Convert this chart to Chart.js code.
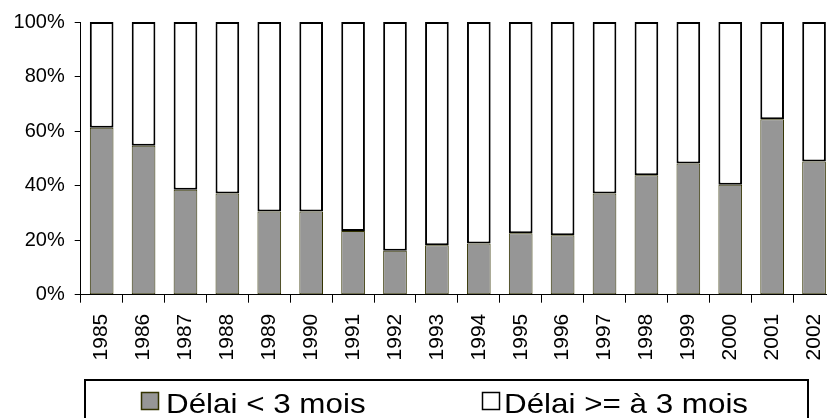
<!DOCTYPE html>
<html>
<head>
<meta charset="utf-8">
<script src="https://cdn.jsdelivr.net/npm/chart.js@4.4.0/dist/chart.umd.min.js"></script>
<style>
  html, body { margin: 0; padding: 0; background: #fff; overflow: hidden; }
  #wrap { width: 860px; height: 418px; }
</style>
</head>
<body>
<div id="wrap"><canvas id="delaiChart" width="860" height="418"></canvas></div>
<script>
const annees = ['1985', '1986', '1987', '1988', '1989', '1990', '1991', '1992', '1993',
                '1994', '1995', '1996', '1997', '1998', '1999', '2000', '2001', '2002'];
const moinsDe3Mois = [61.2, 54.6, 38.5, 37.1, 30.5, 30.5, 23.4, 16.1, 18.1,
                      18.8, 22.5, 21.8, 37.1, 43.8, 48.1, 40.3, 64.3, 48.8];
const plusDe3Mois = [38.8, 45.4, 61.5, 62.9, 69.5, 69.5, 76.6, 83.9, 81.9,
                     81.2, 77.5, 78.2, 62.9, 56.2, 51.9, 59.7, 35.7, 51.2];
const graduations = [0, 20, 40, 60, 80, 100];

const police = '"Liberation Sans", Arial, sans-serif';

// légende encadrée comme dans l'original (Excel), texte un peu étiré en largeur
const cadreLegende = {
    id: 'cadreLegende',
    afterDraw(chart) {
        const ctx = chart.ctx;
        const ds = chart.data.datasets;
        const places = [{ carre: 141, texte: 166 }, { carre: 482, texte: 504 }];
        ctx.save();
        ctx.strokeStyle = '#000';
        ctx.lineWidth = 2;
        ctx.strokeRect(85, 380, 723, 60);
        places.forEach((p, i) => {
            ctx.fillStyle = ds[i].backgroundColor;
            ctx.fillRect(p.carre, 392, 18, 18);
            ctx.strokeStyle = ds[i].borderColor;
            ctx.lineWidth = 1.5;
            ctx.strokeRect(p.carre + 0.5, 392.5, 17, 17);
            ctx.save();
            ctx.translate(p.texte, 412.5);
            ctx.scale(1.12, 1);
            ctx.font = '28px ' + police;
            ctx.textBaseline = 'alphabetic';
            ctx.fillStyle = '#000';
            ctx.fillText(ds[i].label, 0, 0);
            ctx.restore();
        });
        ctx.restore();
    }
};

const ctx = document.getElementById('delaiChart').getContext('2d');
const delaiChart = new Chart(ctx, {
    type: 'bar',
    data: {
        labels: annees,
        datasets: [{
            label: 'Délai < 3 mois',
            data: moinsDe3Mois,
            backgroundColor: '#969696',
            borderColor: '#333300',
            borderWidth: 1,
            borderSkipped: false,
            barPercentage: 0.565,
            categoryPercentage: 1
        }, {
            label: 'Délai >= à 3 mois',
            data: plusDe3Mois,
            backgroundColor: '#ffffff',
            borderColor: '#000000',
            borderWidth: 2,
            borderSkipped: false,
            barPercentage: 0.565,
            categoryPercentage: 1
        }]
    },
    options: {
        responsive: false,
        animation: false,
        layout: { padding: { top: 21, right: 25, left: 0, bottom: 0 } },
        plugins: {
            legend: { display: false },
            tooltip: { enabled: false }
        },
        scales: {
            x: {
                stacked: true,
                grid: {
                    offset: true,
                    drawOnChartArea: false,
                    drawTicks: true,
                    tickLength: 8,
                    color: '#000'
                },
                border: { display: true, color: '#000', width: 1 },
                ticks: {
                    color: '#000',
                    font: { family: police, size: 21 },
                    minRotation: 90,
                    maxRotation: 90,
                    autoSkip: false,
                    padding: 11
                },
                afterFit: s => { s.height = 123.3; }
            },
            y: {
                stacked: true,
                min: 0,
                max: 100,
                afterBuildTicks: s => { s.ticks = graduations.map(v => ({ value: v })); },
                grid: {
                    drawOnChartArea: false,
                    drawTicks: true,
                    tickLength: 6,
                    color: '#000'
                },
                border: { display: true, color: '#000', width: 1 },
                ticks: {
                    color: '#000',
                    font: { family: police, size: 20 },
                    padding: 10,
                    callback: v => v + '%'
                },
                afterFit: s => { s.width = 80.7; }
            }
        }
    },
    plugins: [cadreLegende]
});
</script>
</body>
</html>
